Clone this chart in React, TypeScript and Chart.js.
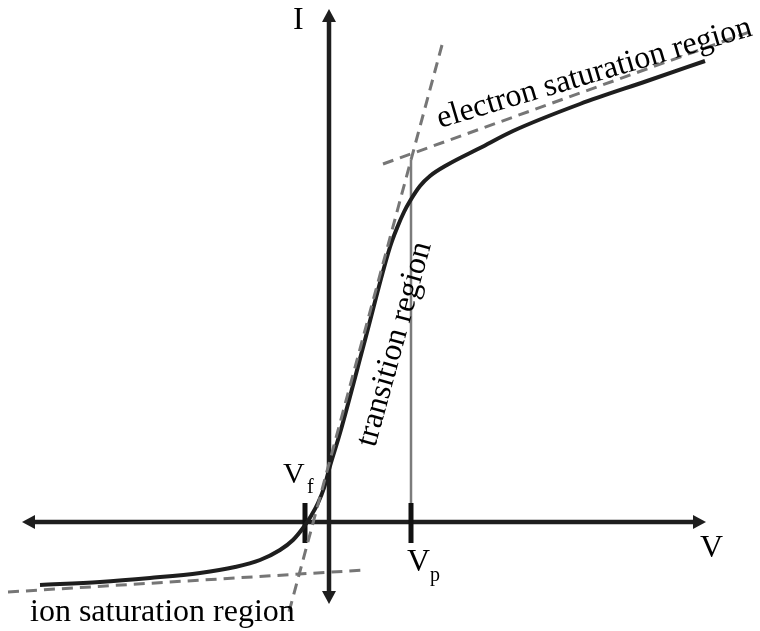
import React, { useEffect, useRef } from "react";
import { Chart, registerables } from "chart.js";

Chart.register(...registerables);

// Langmuir probe characteristic: probe bias V against collected current I (arbitrary units)
const curveV = [
  -28.9, -22.9, -17.9, -12.9, -9.4, -6.9, -4.9, -3.6, -2.6, -1.8, -1.1, -0.5, 0.1, 1.1, 3.6, 6.1,
  6.8, 7.5, 8.1, 9.1, 10.1, 11.8, 15.1, 18.4, 25.1, 31.8, 37.6,
];
const curveI = [
  -6.3, -6.0, -5.6, -5.1, -4.5, -3.8, -2.8, -1.8, -0.6, 0.6, 1.9, 3.4, 5.6, 8.9, 18.2, 27.5,
  29.4, 31.0, 32.1, 33.6, 34.6, 35.7, 37.4, 39.1, 41.8, 44.1, 46.1,
];

// straight-line fits of the three regions (end points)
const ionFitV = [-32.1, 3.6];
const ionFitI = [-7.0, -4.8];
const transitionFitV = [11.3, -4.0];
const transitionFitI = [47.7, -9.0];
const electronFitV = [5.4, 42.6];
const electronFitI = [35.8, 49.2];

// floating and plasma potentials
const floatingPotential = -2.4;
const plasmaPotential = 8.2;
const plasmaMarkerTop = 36.2;
const tickHalfSpan = [1.9, -2.1];

// axis extents (arrow tips) and visible window
const axisVRange = [-30.7, 37.7];
const axisIRange = [-8.2, 51.3];
const viewV = [-32.9, 43.1];
const viewI = [-10.9, 52.2];

// annotations
const labelTexts = ["I", "V", "V", "f", "V", "p", "ion saturation region", "electron saturation region", "transition region"];
const labelV = [-3.6, 37.1, -4.6, -2.2, 7.8, 10.1, -29.9, 11.1, 4.6];
const labelI = [49.3, -3.5, 3.9, 2.9, -4.9, -5.9, -9.9, 39.4, 7.4];
const labelSizes = [32, 32, 30, 20, 32, 20, 32, 32, 32];
const labelAngles = [0, 0, 0, 0, 0, 0, 0, -16.5, -74.6];

const INK = "#1e1e1e";
const FIT = "#767676";
const FONT = '"Liberation Serif", "Times New Roman", serif';

const pts = (vs: number[], is: number[]) => vs.map((v, k) => ({ x: v, y: is[k] }));

const diagramPlugin = {
  id: "probeDiagram",
  beforeDatasetsDraw(chart: any) {
    const { ctx } = chart;
    const xs = chart.scales.x;
    const ys = chart.scales.y;
    const x0 = xs.getPixelForValue(0);
    const y0 = ys.getPixelForValue(0);
    const head = 13;
    const half = 7;
    ctx.save();
    ctx.strokeStyle = INK;
    ctx.fillStyle = INK;
    ctx.lineWidth = 4.5;
    ctx.lineCap = "butt";

    const xl = xs.getPixelForValue(axisVRange[0]);
    const xr = xs.getPixelForValue(axisVRange[1]);
    const yt = ys.getPixelForValue(axisIRange[1]);
    const yb = ys.getPixelForValue(axisIRange[0]);

    ctx.beginPath();
    ctx.moveTo(xl + head - 1, y0);
    ctx.lineTo(xr - head + 1, y0);
    ctx.moveTo(x0, yt + head - 1);
    ctx.lineTo(x0, yb - head + 1);
    ctx.stroke();

    const tri = (ax: number, ay: number, bx: number, by: number, cx: number, cy: number) => {
      ctx.beginPath();
      ctx.moveTo(ax, ay);
      ctx.lineTo(bx, by);
      ctx.lineTo(cx, cy);
      ctx.closePath();
      ctx.fill();
    };
    tri(xr, y0, xr - head, y0 - half, xr - head, y0 + half);
    tri(xl, y0, xl + head, y0 - half, xl + head, y0 + half);
    tri(x0, yt, x0 - half, yt + head, x0 + half, yt + head);
    tri(x0, yb, x0 - half, yb - head, x0 + half, yb - head);

    // plasma potential guide
    const xp = xs.getPixelForValue(plasmaPotential);
    ctx.strokeStyle = "#7c7c7c";
    ctx.lineWidth = 2.5;
    ctx.beginPath();
    ctx.moveTo(xp, ys.getPixelForValue(plasmaMarkerTop));
    ctx.lineTo(xp, y0);
    ctx.stroke();

    // potential ticks on the V axis
    ctx.strokeStyle = "#111";
    ctx.lineWidth = 5;
    ctx.beginPath();
    for (const v of [floatingPotential, plasmaPotential]) {
      const px = xs.getPixelForValue(v);
      ctx.moveTo(px, ys.getPixelForValue(tickHalfSpan[0]));
      ctx.lineTo(px, ys.getPixelForValue(tickHalfSpan[1]));
    }
    ctx.stroke();
    ctx.restore();
  },
  afterDatasetsDraw(chart: any) {
    const { ctx } = chart;
    const xs = chart.scales.x;
    const ys = chart.scales.y;
    ctx.save();
    ctx.fillStyle = "#000";
    ctx.textAlign = "left";
    ctx.textBaseline = "alphabetic";
    labelTexts.forEach((t, k) => {
      ctx.save();
      ctx.translate(xs.getPixelForValue(labelV[k]), ys.getPixelForValue(labelI[k]));
      ctx.rotate((labelAngles[k] * Math.PI) / 180);
      ctx.font = `${labelSizes[k]}px ${FONT}`;
      ctx.fillText(t, 0, 0);
      ctx.restore();
    });
    ctx.restore();
  },
};

export default function App() {
  const canvasRef = useRef<HTMLCanvasElement | null>(null);

  useEffect(() => {
    document.body.style.margin = "0";
    const canvas = canvasRef.current;
    if (!canvas) return;

    const fitStyle = {
      borderColor: FIT,
      borderWidth: 3,
      borderDash: [11, 7],
      pointRadius: 0,
      showLine: true,
      fill: false,
    };

    const chart = new Chart(canvas, {
      type: "scatter",
      data: {
        datasets: [
          { label: "ion fit", data: pts(ionFitV, ionFitI), ...fitStyle, order: 1 },
          { label: "transition fit", data: pts(transitionFitV, transitionFitI), ...fitStyle, order: 1 },
          { label: "electron fit", data: pts(electronFitV, electronFitI), ...fitStyle, order: 1 },
          {
            label: "I-V",
            data: pts(curveV, curveI),
            borderColor: INK,
            borderWidth: 4,
            pointRadius: 0,
            showLine: true,
            fill: false,
            cubicInterpolationMode: "monotone",
            borderCapStyle: "butt",
            order: 2,
          },
        ],
      },
      options: {
        animation: false,
        responsive: false,
        devicePixelRatio: 1,
        layout: { padding: 0 },
        plugins: { legend: { display: false }, tooltip: { enabled: false }, title: { display: false } },
        events: [],
        scales: {
          x: { type: "linear", min: viewV[0], max: viewV[1], display: false },
          y: { type: "linear", min: viewI[0], max: viewI[1], display: false },
        },
      },
      plugins: [diagramPlugin],
    } as any);

    const fonts = (document as any).fonts;
    if (fonts && fonts.load) {
      fonts.load(`32px ${FONT}`).then(() => chart.draw()).catch(() => {});
    }

    return () => chart.destroy();
  }, []);

  return (
    <div style={{ width: 760, height: 631, background: "#fff" }}>
      <canvas ref={canvasRef} width={760} height={631} style={{ display: "block" }} />
    </div>
  );
}
